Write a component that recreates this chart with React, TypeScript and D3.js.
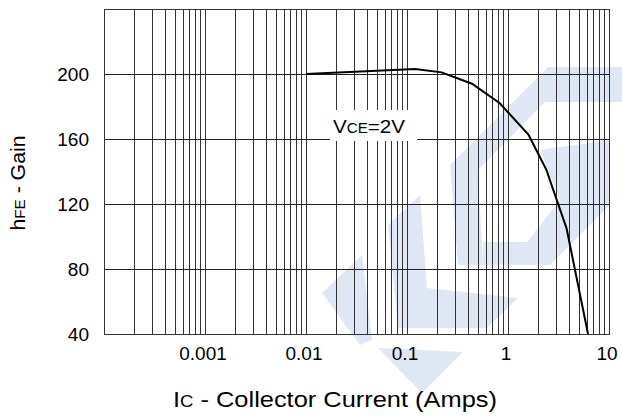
import React, { useEffect, useRef } from 'react';
import * as d3 from 'd3';

// collector current (A) vs. hFE
const icAmps = [0.01, 0.12, 0.22, 0.44, 0.83, 1.6, 2.4, 3.8, 6.2];
const hfeGain = [200, 203, 201, 194, 182, 162.5, 141, 105, 40];

const xTicks = [0.001, 0.01, 0.1, 1, 10];
const xTickLabels = ['0.001', '0.01', '0.1', '1', '10'];
const yTicks = [40, 80, 120, 160, 200];
const yGrid = [80, 120, 160, 200];

// watermark logo outline (pixel coords), just decoration behind the grid
const watermark = [
  [[513, 102], [548, 67], [622, 67], [622, 102]],
  [[513, 102], [545, 102], [478, 170], [483, 265], [458, 265], [450, 165]],
  [[540, 150], [610, 140], [610, 205], [550, 265], [483, 265], [483, 242], [527, 242], [560, 200]],
  [[388, 225], [420, 195], [427, 288], [518, 298], [487, 328], [398, 328]],
  [[322, 293], [362, 255], [372, 340], [360, 345]],
  [[378, 348], [463, 352], [422, 393]],
];

const FONT = '"Liberation Sans", Arial, sans-serif';

export default function App() {
  const ref = useRef<SVGSVGElement | null>(null);

  useEffect(() => {
    const svg = d3.select(ref.current);
    svg.selectAll('*').remove();

    const left = 104, right = 609, top = 9, bottom = 334;
    const x = d3.scaleLog().domain([1e-4, 10]).range([left, right]);
    const y = d3.scaleLinear().domain([40, 240]).range([bottom, top]);

    svg.append('g')
      .selectAll('path')
      .data(watermark)
      .enter().append('path')
      .attr('d', (d) => 'M' + d.map((p) => p.join(',')).join('L') + 'Z')
      .attr('fill', '#dfe6f4');

    // vertical grid, 1..9 in every decade
    const vlines: number[] = [];
    for (let e = -4; e < 1; e++) {
      for (let k = 1; k < 10; k++) vlines.push(k * Math.pow(10, e));
    }
    svg.append('g')
      .selectAll('line')
      .data(vlines)
      .enter().append('line')
      .attr('x1', (d) => Math.round(x(d)) + 0.5)
      .attr('x2', (d) => Math.round(x(d)) + 0.5)
      .attr('y1', top)
      .attr('y2', bottom)
      .attr('stroke', '#333')
      .attr('stroke-width', 1);

    svg.append('g')
      .selectAll('line')
      .data(yGrid)
      .enter().append('line')
      .attr('x1', left)
      .attr('x2', right)
      .attr('y1', (d) => Math.round(y(d)) + 0.5)
      .attr('y2', (d) => Math.round(y(d)) + 0.5)
      .attr('stroke', '#222')
      .attr('stroke-width', 1);

    svg.append('rect')
      .attr('x', left + 0.5)
      .attr('y', top + 0.5)
      .attr('width', right - left)
      .attr('height', bottom - top)
      .attr('fill', 'none')
      .attr('stroke', '#333');

    // label box knocks out the grid
    svg.append('rect')
      .attr('x', 330)
      .attr('y', 110)
      .attr('width', 87)
      .attr('height', 31)
      .attr('fill', '#fff');

    const vce = svg.append('text')
      .attr('x', 333)
      .attr('y', 133)
      .attr('textLength', 72)
      .attr('lengthAdjust', 'spacingAndGlyphs')
      .style('font-family', FONT)
      .style('font-size', '19px');
    vce.append('tspan').text('V');
    vce.append('tspan').style('font-size', '14px').text('CE');
    vce.append('tspan').text('=2V');

    const line = d3.line<number>()
      .x((d, i) => x(icAmps[i]))
      .y((d) => y(d));
    svg.append('path')
      .attr('d', line(hfeGain))
      .attr('fill', 'none')
      .attr('stroke', '#000')
      .attr('stroke-width', 2);

    svg.append('g')
      .selectAll('text')
      .data(yTicks)
      .enter().append('text')
      .attr('x', 89)
      .attr('y', (d) => y(d))
      .attr('dy', '0.36em')
      .attr('text-anchor', 'end')
      .style('font-family', FONT)
      .style('font-size', '19px')
      .text((d) => d);

    svg.append('g')
      .selectAll('text')
      .data(xTicks)
      .enter().append('text')
      .attr('x', (d) => x(d) - 2)
      .attr('y', 360)
      .attr('text-anchor', 'middle')
      .style('font-family', FONT)
      .style('font-size', '19px')
      .text((d, i) => xTickLabels[i]);

    const xt = svg.append('text')
      .attr('x', 173)
      .attr('y', 407)
      .attr('textLength', 324)
      .attr('lengthAdjust', 'spacingAndGlyphs')
      .style('font-family', FONT)
      .style('font-size', '22px');
    xt.append('tspan').text('I');
    xt.append('tspan').style('font-size', '16px').text('C');
    xt.append('tspan').text(' - Collector Current (Amps)');

    const yt = svg.append('text')
      .attr('transform', 'translate(25,183) rotate(-90)')
      .attr('text-anchor', 'middle')
      .attr('textLength', 95)
      .attr('lengthAdjust', 'spacingAndGlyphs')
      .style('font-family', FONT)
      .style('font-size', '21px');
    yt.append('tspan').text('h');
    yt.append('tspan').style('font-size', '15px').text('FE');
    yt.append('tspan').text(' - Gain');
  }, []);

  return (
    <svg
      ref={ref}
      width={622}
      height={419}
      style={{ position: 'absolute', left: 0, top: 0, background: '#fff' }}
    />
  );
}
